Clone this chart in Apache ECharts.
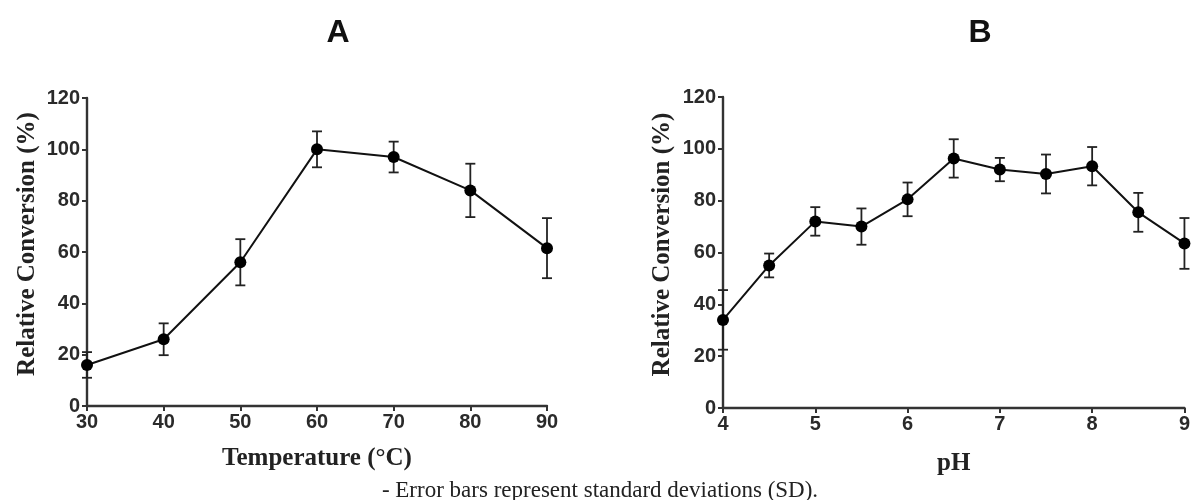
<!DOCTYPE html>
<html><head><meta charset="utf-8">
<script src="https://cdn.jsdelivr.net/npm/echarts@6/dist/echarts.min.js"></script>
<style>html,body{margin:0;padding:0;background:#fff}#c{width:1193px;height:500px}</style>
</head><body><div id="c"></div>
<script>
// Panel A: temperature
const tempX = [30, 40, 50, 60, 70, 80, 90];
const tempY = [16, 26, 56, 100, 97, 84, 61.5];
const tempSD = [5, 6.2, 9, 7, 6, 10.4, 11.7];
// Panel B: pH
const phX = [4, 4.5, 5, 5.5, 6, 6.5, 7, 7.5, 8, 8.5, 9];
const phY = [34, 55, 72, 70, 80.5, 96.3, 92, 90.3, 93.3, 75.5, 63.5];
const phSD = [11.5, 4.6, 5.5, 7, 6.5, 7.4, 4.5, 7.5, 7.4, 7.5, 9.8];
const yTicks = [0, 20, 40, 60, 80, 100, 120];

const sans = 'Liberation Sans';
const serif = 'Liberation Serif';
const axisCol = '#333';

function errItem(params, api) {
  const x = api.value(0), lo = api.value(1), hi = api.value(2);
  const pLo = api.coord([x, lo]), pHi = api.coord([x, hi]);
  const w = 5;
  const st = {stroke: '#222', lineWidth: 1.8, fill: null};
  return {type: 'group', children: [
    {type: 'line', shape: {x1: pLo[0], y1: pLo[1], x2: pHi[0], y2: pHi[1]}, style: st},
    {type: 'line', shape: {x1: pLo[0]-w, y1: pLo[1], x2: pLo[0]+w, y2: pLo[1]}, style: st},
    {type: 'line', shape: {x1: pHi[0]-w, y1: pHi[1], x2: pHi[0]+w, y2: pHi[1]}, style: st}
  ]};
}

function xAxis(idx, min, max, interval, name, gap) {
  return {
    type: 'value', gridIndex: idx, min, max, interval,
    name, nameLocation: 'middle', nameGap: gap,
    nameTextStyle: {fontFamily: serif, fontWeight: 'bold', fontSize: 25, color: '#222'},
    axisLine: {lineStyle: {color: axisCol, width: 2.4}},
    axisTick: {length: 5, lineStyle: {color: axisCol, width: 2}},
    axisLabel: {fontFamily: sans, fontWeight: 'bold', fontSize: 20, color: '#2a2a2a', margin: 6},
    splitLine: {show: false}
  };
}
function yAxis(idx, gap) {
  return {
    type: 'value', gridIndex: idx, min: yTicks[0], max: yTicks[yTicks.length-1], interval: 20,
    name: 'Relative Conversion (%)', nameLocation: 'middle', nameGap: gap, nameRotate: 90,
    nameTextStyle: {fontFamily: serif, fontWeight: 'bold', fontSize: 25, color: '#222', padding: [0, 0, 0, 16]},
    axisLine: {show: true, lineStyle: {color: axisCol, width: 2.4}},
    axisTick: {show: true, length: 5, lineStyle: {color: axisCol, width: 2}},
    axisLabel: {fontFamily: sans, fontWeight: 'bold', fontSize: 20, color: '#2a2a2a', margin: 7},
    splitLine: {show: false}
  };
}

const option = {
  backgroundColor: '#fff',
  animation: false,
  title: [
    {text: 'A', left: 333, top: 12, textAlign: 'center', textStyle: {fontFamily: sans, fontWeight: 'bold', fontSize: 32, color: '#111'}},
    {text: 'B', left: 975, top: 12, textAlign: 'center', textStyle: {fontFamily: sans, fontWeight: 'bold', fontSize: 32, color: '#111'}},
    {text: '- Error bars represent standard deviations (SD).', left: 595, top: 474, textAlign: 'center', textStyle: {fontFamily: serif, fontWeight: 'normal', fontSize: 23, color: '#222'}}
  ],
  grid: [
    {left: 87, width: 460, top: 98, height: 308},
    {left: 723, width: 465, top: 97, height: 311}
  ],
  xAxis: [xAxis(0, 30, 90, 10, 'Temperature (°C)', 40), xAxis(1, 4, 9, 1, 'pH', 43)],
  yAxis: [yAxis(0, 47), yAxis(1, 48)],
  series: [
    {type: 'custom', xAxisIndex: 0, yAxisIndex: 0, renderItem: errItem, z: 3,
     data: tempX.map((x, i) => [x, tempY[i]-tempSD[i], tempY[i]+tempSD[i]])},
    {type: 'line', xAxisIndex: 0, yAxisIndex: 0, symbol: 'circle', symbolSize: 12, z: 4,
     lineStyle: {color: '#111', width: 2}, itemStyle: {color: '#000'},
     data: tempX.map((x, i) => [x, tempY[i]])},
    {type: 'custom', xAxisIndex: 1, yAxisIndex: 1, renderItem: errItem, z: 3,
     data: phX.map((x, i) => [x, phY[i]-phSD[i], phY[i]+phSD[i]])},
    {type: 'line', xAxisIndex: 1, yAxisIndex: 1, symbol: 'circle', symbolSize: 12, z: 4,
     lineStyle: {color: '#111', width: 2}, itemStyle: {color: '#000'},
     data: phX.map((x, i) => [x, phY[i]])}
  ]
};
echarts.init(document.getElementById('c')).setOption(option);
</script></body></html>
